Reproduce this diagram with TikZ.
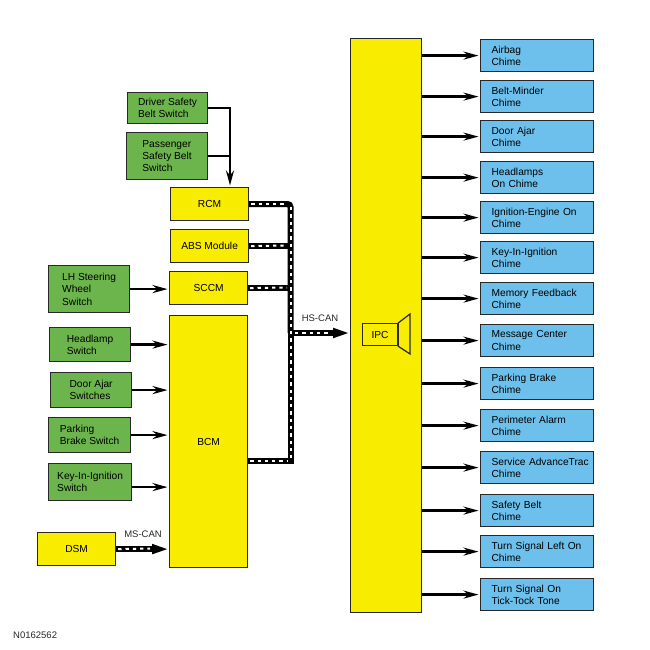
\documentclass[tikz,border=0pt]{standalone}
\usepackage{fontspec}
\setmainfont{Liberation Sans}
\usetikzlibrary{arrows.meta}
\definecolor{ylw}{RGB}{248,236,0}
\definecolor{grn}{RGB}{108,181,76}
\definecolor{blu}{RGB}{110,192,236}
\definecolor{edge}{RGB}{40,40,40}
\begin{document}
\begin{tikzpicture}[x=1pt,y=-1pt,
 every node/.style={font=\fontsize{10.2}{12.3}\selectfont},
 box/.style={draw=edge, line width=1.2pt, anchor=north west, inner sep=0pt},
 gbox/.style={box, fill=grn, align=left},
 ybox/.style={box, fill=ylw},
 bbox/.style={box, fill=blu, align=left, text width=91pt, inner xsep=11pt, minimum width=113pt, minimum height=32pt},
 sig/.style={line width=2.3pt, shorten >=1.5pt, -{Stealth[length=15pt,width=8pt,inset=5pt]}},
 plain/.style={line width=2.3pt},
 busblack/.style={line width=6pt, black},
 buswhite/.style={line width=2pt, white, dash pattern=on 3.3pt off 4pt},
 lbl/.style={font=\fontsize{9.5}{11}\selectfont, text=edge}
]
\useasboundingbox (0,0) rectangle (650,650);
\fill[white] (0,0) rectangle (650,650);

% green switches
\node[gbox, minimum width=80pt, minimum height=31pt] (drv) at (127,92) {Driver Safety\\Belt Switch};
\node[gbox, minimum width=81pt, minimum height=47pt] (pas) at (126,132) {Passenger\\Safety Belt\\Switch};
\node[gbox, minimum width=81pt, minimum height=47pt] (lh) at (48,265) {LH Steering\\Wheel\\Switch};
\node[gbox, minimum width=81pt, minimum height=34pt] (hl) at (49,327) {Headlamp\\Switch};
\node[gbox, minimum width=81pt, minimum height=35pt] (da) at (50,372) {Door Ajar\\Switches};
\node[gbox, minimum width=82pt, minimum height=35pt] (pb) at (48,417) {Parking\\Brake Switch};
\node[gbox, minimum width=83pt, minimum height=37pt] (ki) at (48,463) {Key-In-Ignition\\Switch};

% yellow modules
\node[ybox, minimum width=78pt, minimum height=33pt] (rcm) at (170,187) {RCM};
\node[ybox, minimum width=78pt, minimum height=33pt] (abs) at (170,229) {ABS Module};
\node[ybox, minimum width=78pt, minimum height=33pt] (sccm) at (169,271) {SCCM};
\node[ybox, minimum width=78pt, minimum height=252pt] (bcm) at (169,315) {BCM};
\node[ybox, minimum width=78pt, minimum height=33pt] (dsm) at (37,532) {DSM};
\node[ybox, minimum width=71pt, minimum height=574pt] (ipc) at (350,38) {};
\node[ybox, minimum width=35pt, minimum height=22pt] (ipcl) at (362,323) {IPC};
\draw[draw=edge, line width=1.2pt, fill=ylw] (ipcl.north east) -- (410,314) -- (410,354) -- (ipcl.south east) -- cycle;

% blue chimes
\foreach \n/\t/\txt in {
 c1/39/{Airbag\\Chime},
 c2/80/{Belt-Minder\\Chime},
 c3/120/{Door Ajar\\Chime},
 c4/161/{Headlamps\\On Chime},
 c5/201/{Ignition-Engine On\\Chime},
 c6/241/{Key-In-Ignition\\Chime},
 c7/282/{Memory Feedback\\Chime},
 c8/324/{Message Center\\Chime},
 c9/367/{Parking Brake\\Chime},
 c10/409/{Perimeter Alarm\\Chime},
 c11/451/{\mbox{Service AdvanceTrac}\\Chime},
 c12/494/{Safety Belt\\Chime},
 c13/535/{Turn Signal Left On\\Chime},
 c14/578/{Turn Signal On\\Tick-Tock Tone}}{
 \node[bbox] (\n) at (480,\t) {\txt};
 \draw[sig] (ipc.east |- \n.west) -- (\n.west);
}

% switch inputs
\coordinate (j) at (230,187);
\draw[sig] (drv.east) -| (j);
\draw[plain] (pas.east) -- (pas.east -| j);
\draw[sig] (lh.east) -- (lh.east -| sccm.west);
\draw[sig] (hl.east) -- (hl.east -| bcm.west);
\draw[sig] (da.east) -- (da.east -| bcm.west);
\draw[sig] (pb.east) -- (pb.east -| bcm.west);
\draw[sig] ([yshift=-5pt]ki.east) -- ([yshift=-5pt]ki.east -| bcm.west);

% HS-CAN bus
\coordinate (bt) at (290.5,204);
\coordinate (bb) at (290.5,460.5);
\coordinate (hs) at (290.5,333);
\draw[busblack, rounded corners=3pt] (rcm.east |- bt) -- (bt) -- (hs);
\draw[busblack, line join=miter] (hs) -- (bb) -- (bcm.east |- bb);
\draw[busblack] (abs.east) -- (abs.east -| bt);
\draw[busblack] (sccm.east) -- (sccm.east -| bt);
\draw[busblack, -{Triangle[length=17pt,width=9pt]}] (hs) -- (hs -| ipc.west);
\draw[buswhite] ([xshift=2pt]rcm.east |- bt) -- (287,204);
\draw[buswhite] (290.5,207) -- (290.5,458);
\draw[buswhite] ([xshift=2pt]abs.east) -- (287,245.5);
\draw[buswhite] ([xshift=2pt]sccm.east) -- (287,287.5);
\draw[buswhite] ([xshift=2pt]bcm.east |- bb) -- (287,460.5);
\draw[buswhite] (295,333) -- (328,333);
\node[lbl] (hslbl) at (320,318) {HS-CAN};

% MS-CAN
\draw[busblack, -{Triangle[length=17pt,width=9pt]}] (dsm.east) -- (dsm.east -| bcm.west);
\draw[buswhite] ([xshift=2pt]dsm.east) -- (150,548.5);
\node[lbl] (mslbl) at (143,534) {MS-CAN};

\node[lbl, anchor=west, inner sep=0pt] (code) at (13,635) {N0162562};
\end{tikzpicture}
\end{document}
